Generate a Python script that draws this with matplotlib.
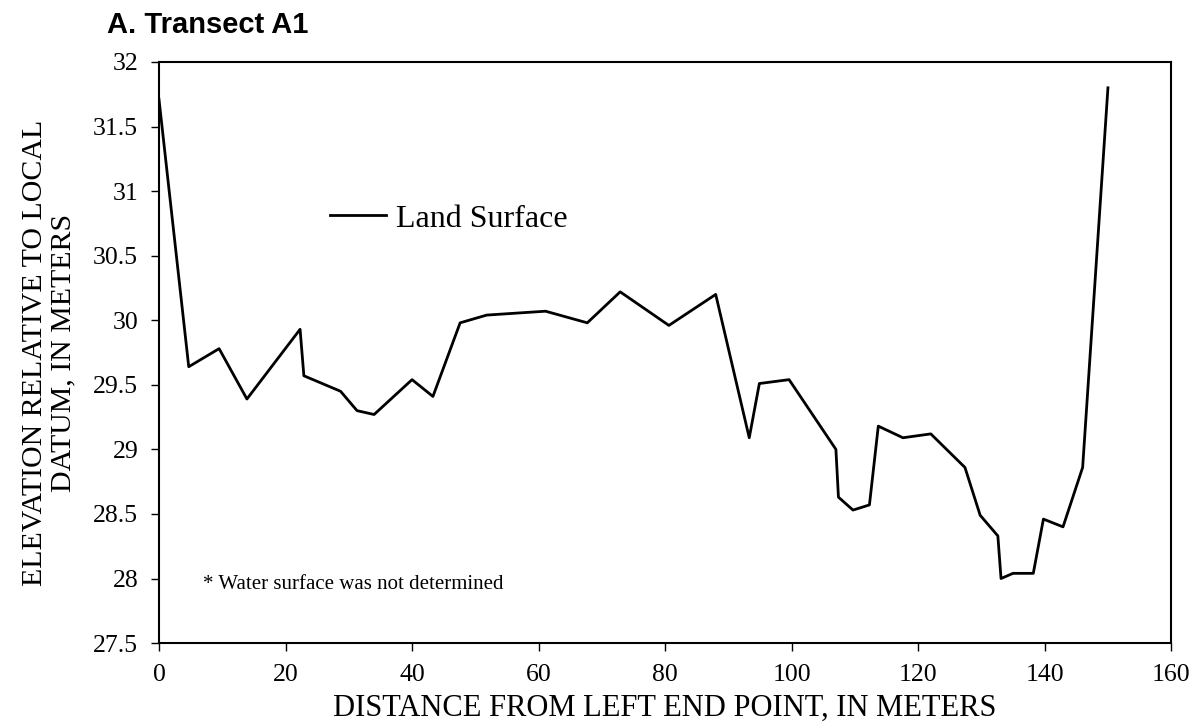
import matplotlib
matplotlib.use('Agg')
import matplotlib.pyplot as plt

# distance (m) and land surface elevation (m) read from the transect
distance = [0, 4.7, 9.5, 13.9, 22.3, 22.9, 28.7, 31.3, 34.0, 40.0, 43.3, 47.6,
            51.8, 61.1, 67.7, 72.9, 80.6, 88.0, 93.3, 94.9, 99.6, 107.0, 107.4,
            109.7, 112.3, 113.7, 117.6, 122.0, 127.4, 129.8, 132.6, 133.1, 135.0,
            138.2, 139.8, 142.9, 146.0, 150.0]
elevation = [31.71, 29.64, 29.78, 29.39, 29.93, 29.57, 29.45, 29.30, 29.27, 29.54,
             29.41, 29.98, 30.04, 30.07, 29.98, 30.22, 29.96, 30.20, 29.09, 29.51,
             29.54, 29.00, 28.63, 28.53, 28.57, 29.18, 29.09, 29.12, 28.86, 28.49,
             28.33, 28.00, 28.04, 28.04, 28.46, 28.40, 28.86, 31.80]
x_ticks = [0, 20, 40, 60, 80, 100, 120, 140, 160]
y_ticks = [27.5, 28, 28.5, 29, 29.5, 30, 30.5, 31, 31.5, 32]

plt.rcParams['font.family'] = ['Liberation Serif', 'DejaVu Serif']

fig = plt.figure(figsize=(12, 7.25), dpi=100)
ax = fig.add_axes([0.1325, 0.113, 0.8435, 0.8015])

ax.plot(distance, elevation, color='black', linewidth=2.0, label='Land Surface')

ax.set_xlim(0, 160)
ax.set_ylim(27.5, 32)
ax.set_xticks(x_ticks)
ax.set_yticks(y_ticks)
ax.set_xticklabels([str(t) for t in x_ticks])
ax.set_yticklabels(['%g' % t for t in y_ticks])
ax.tick_params(direction='out', length=6, width=1, labelsize=18.5, pad=9)
for s in ax.spines.values():
    s.set_linewidth(1.5)

ax.set_xlabel('DISTANCE FROM LEFT END POINT, IN METERS', fontsize=22, labelpad=6)
ax.set_ylabel('ELEVATION RELATIVE TO LOCAL\nDATUM, IN METERS', fontsize=21.5,
              labelpad=12, linespacing=1.12)

ax.legend(loc='center left', bbox_to_anchor=(0.169, 0.73), frameon=False,
          fontsize=23, handlelength=1.75, handletextpad=0.3,
          borderpad=0, borderaxespad=0)

ax.text(0.043, 0.10, '* Water surface was not determined', transform=ax.transAxes,
        fontsize=15, va='center')

fig.text(107 / 1200, 1 - 33 / 725, 'A. Transect A1', fontsize=21,
         fontweight='bold', family=['Liberation Sans', 'DejaVu Sans'],
         va='baseline')

fig.savefig('out.png', dpi=100)
